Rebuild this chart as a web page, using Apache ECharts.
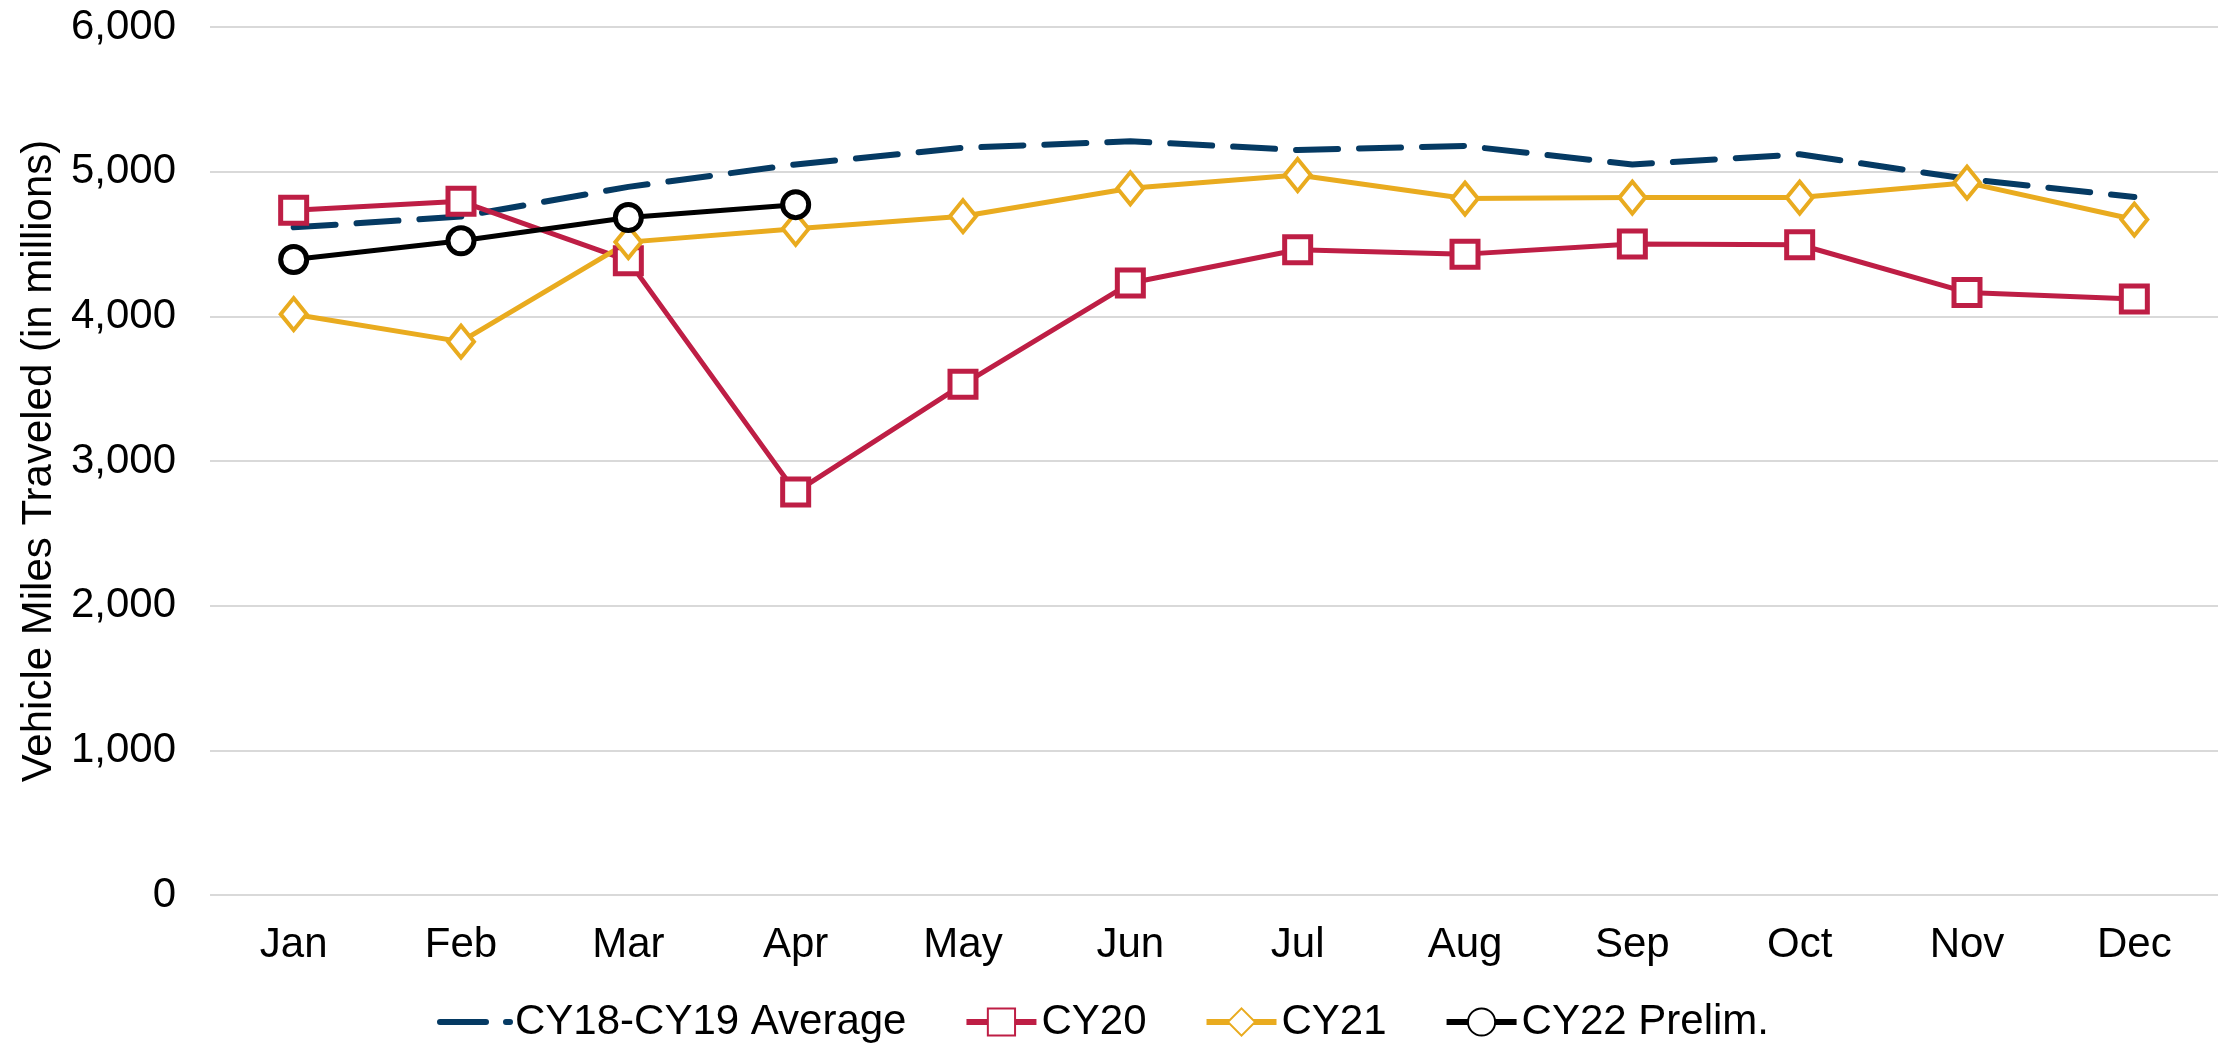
<!DOCTYPE html>
<html lang="en">
<head>
    <meta charset="UTF-8">
    <title>VMT</title>
    <style>
        html,body{margin:0;padding:0;background:#fff;}
        #main{width:2227px;height:1043px;}
    </style>
    <script src="https://cdn.jsdelivr.net/npm/echarts@6/dist/echarts.min.js"></script>
</head>
<body>
    <div id="main"></div>
<script>
    var months = ['Jan','Feb','Mar','Apr','May','Jun','Jul','Aug','Sep','Oct','Nov','Dec'];
    // CY18-CY19 average
    var avgData = [4615, 4690, 4895, 5050, 5165, 5210, 5150, 5178, 5050, 5120, 4950, 4825];
    var cy20 = [4733, 4795, 4385, 2785, 3530, 4230, 4460, 4430, 4500, 4495, 4165, 4120];
    var cy21 = [4015, 3825, 4513, 4605, 4692, 4885, 4977, 4814, 4821, 4821, 4924, 4669];
    var cy22 = [4393, 4522, 4683, 4772];
    var yTicks = [0, 1000, 2000, 3000, 4000, 5000, 6000];

    var font = 'Liberation Sans, Arial, sans-serif';
    var navy = '#053a63', red = '#be1e45', gold = '#e9ab1f';
    var chart = echarts.init(document.getElementById('main'));

    var option = {
        animation:false,
        grid:{left:210, right:9, top:27, bottom:148},
        legend:{
            bottom:0,
            left:437,
            padding:0,
            itemWidth:70,
            itemHeight:34,
            itemGap:57,
            textStyle:{fontFamily:font, fontSize:42, color:'#000'},
            data:[
                {name:'CY18-CY19 Average', itemStyle:{opacity:0}, lineStyle:{width:6, type:[46,20]}},
                {name:'CY20', lineStyle:{width:6}},
                {name:'CY21', lineStyle:{width:6}},
                {name:'CY22 Prelim.', lineStyle:{width:6}}
            ]
        },
        xAxis:{
            type:'category',
            data:months,
            axisLine:{show:false},
            axisTick:{show:false},
            axisLabel:{fontFamily:font, fontSize:42, color:'#000', margin:29}
        },
        yAxis:{
            type:'value',
            min:yTicks[0],
            max:yTicks[yTicks.length-1],
            interval:1000,
            name:'Vehicle Miles Traveled (in millions)',
            nameLocation:'middle',
            nameGap:139,
            nameTextStyle:{fontFamily:font, fontSize:42, color:'#000'},
            axisLabel:{
                fontFamily:font, fontSize:42, color:'#000', margin:34,
                formatter:function(v){ return v.toLocaleString('en-US'); }
            },
            splitLine:{lineStyle:{color:'#d9d9d9', width:2}}
        },
        series:[
            {
                name:'CY18-CY19 Average',
                type:'line',
                data:avgData,
                symbol:'none',
                color:navy,
                lineStyle:{color:navy, width:6, type:[42,21], cap:'round'}
            },
            {
                name:'CY20',
                type:'line',
                data:cy20,
                symbol:'rect',
                symbolSize:26,
                color:red,
                lineStyle:{color:red, width:5},
                itemStyle:{color:'#fff', borderColor:red, borderWidth:5}
            },
            {
                name:'CY21',
                type:'line',
                data:cy21,
                symbol:'diamond',
                symbolSize:[26,32],
                color:gold,
                lineStyle:{color:gold, width:5},
                itemStyle:{color:'#fff', borderColor:gold, borderWidth:4}
            },
            {
                name:'CY22 Prelim.',
                type:'line',
                data:cy22,
                symbol:'circle',
                symbolSize:26,
                color:'#000',
                lineStyle:{color:'#000', width:5},
                itemStyle:{color:'#fff', borderColor:'#000', borderWidth:5}
            }
        ]
    };
    chart.setOption(option);
</script>
</body>
</html>
